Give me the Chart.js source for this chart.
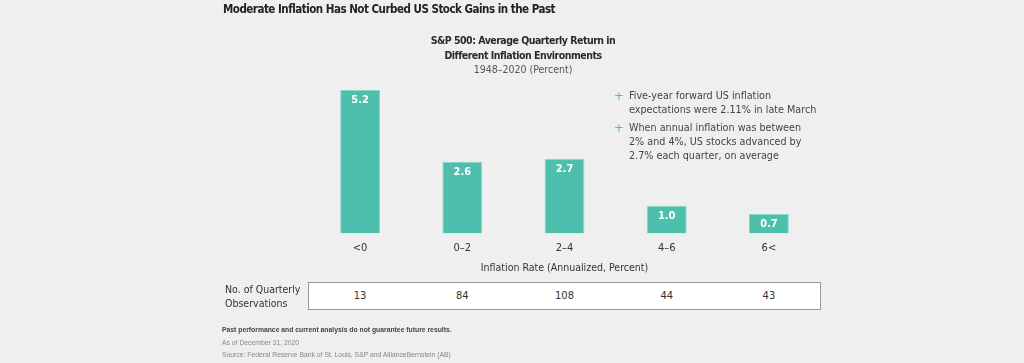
<!DOCTYPE html>
<html lang="en">
<head>
  <meta charset="UTF-8">
  <title>S&amp;P 500: Average Quarterly Return</title>
  <script src="https://cdn.jsdelivr.net/npm/chart.js"></script>
  <style>
    body { margin: 0; background: #efefef; }
    #wrap { position: relative; width: 1024px; height: 363px; overflow: hidden;
            font-family: "DejaVu Sans Condensed", Roboto, sans-serif; color: #333; }
    canvas { position: absolute; left: 0; top: 0; }
    .abs { position: absolute; white-space: nowrap; }
    #title { left: 223px; top: 2px; font-size: 11.5px; letter-spacing: -0.5px; font-weight: bold; color: #222; }
    #subtitle { left: 423px; width: 200px; top: 33px; text-align: center; font-size: 10.5px; line-height: 14.5px; }
    #subtitle b { color: #2a2a2a; letter-spacing: -0.5px; }
    #subtitle span { color: #555; }
    .note { left: 614px; font-size: 10.7px; line-height: 14px; color: #444; }
    .note i { position: absolute; left: 0; top: 0; font-style: normal; color: #4fbfad; font-size: 13px; }
    .note div { padding-left: 15px; }
    #note1 { top: 89px; }
    #note2 { top: 121px; }
    #obsLabel { left: 225px; top: 282px; font-size: 10.5px; line-height: 14px; color: #333; }
    #obsTable { position: absolute; left: 308px; top: 282px; width: 511px; height: 26px;
                background: #fff; border: 1px solid #999; display: flex; }
    #obsTable div { flex: 1; text-align: center; line-height: 26px; font-size: 11px; color: #333; }
    .foot { left: 222px; font-family: "Liberation Sans", Arial, sans-serif; font-size: 6.8px; }
    #foot1 { top: 326px; font-weight: bold; color: #444; }
    #foot2 { top: 339px; color: #888; }
    #foot3 { top: 351px; color: #888; }
  </style>
</head>
<body>
  <div id="wrap">
    <canvas id="returnsChart" width="1024" height="363"></canvas>
    <div id="title" class="abs">Moderate Inflation Has Not Curbed US Stock Gains in the Past</div>
    <div id="subtitle" class="abs">
      <b>S&amp;P 500: Average Quarterly Return in</b><br>
      <b>Different Inflation Environments</b><br>
      <span>1948–2020 (Percent)</span>
    </div>
    <div id="note1" class="abs note"><i>+</i><div>Five-year forward US inflation<br>expectations were 2.11% in late March</div></div>
    <div id="note2" class="abs note"><i>+</i><div>When annual inflation was between<br>2% and 4%, US stocks advanced by<br>2.7% each quarter, on average</div></div>
    <div id="obsLabel" class="abs">No. of Quarterly<br>Observations</div>
    <div id="obsTable"></div>
    <div id="foot1" class="abs foot">Past performance and current analysis do not guarantee future results.</div>
    <div id="foot2" class="abs foot">As of December 31, 2020</div>
    <div id="foot3" class="abs foot">Source: Federal Reserve Bank of St. Louis, S&amp;P and AllianceBernstein (AB)</div>
  </div>

  <script>
    const categories = ['<0', '0–2', '2–4', '4–6', '6<'];
    const avgReturns = [5.2, 2.6, 2.7, 1.0, 0.7];
    const observations = [13, 84, 108, 44, 43];

    const FONT = '"DejaVu Sans Condensed", Roboto, sans-serif';
    const barColor = '#4fbfad';

    // table row under the chart
    const table = document.getElementById('obsTable');
    observations.forEach(n => {
      const cell = document.createElement('div');
      cell.textContent = n;
      table.appendChild(cell);
    });

    // white value inside the top of each bar
    const valueLabels = {
      id: 'valueLabels',
      afterDatasetsDraw(chart) {
        const ctx = chart.ctx;
        const meta = chart.getDatasetMeta(0);
        ctx.save();
        ctx.fillStyle = '#fff';
        ctx.font = 'bold 11px ' + FONT;
        ctx.textAlign = 'center';
        ctx.textBaseline = 'middle';
        meta.data.forEach((bar, i) => {
          ctx.fillText(avgReturns[i].toFixed(1), bar.x, bar.y + 10);
        });
        ctx.restore();
      }
    };

    const ctx = document.getElementById('returnsChart').getContext('2d');
    new Chart(ctx, {
      type: 'bar',
      data: {
        labels: categories,
        datasets: [{
          data: avgReturns,
          backgroundColor: barColor,
          borderColor: '#8ad6c9',
          borderWidth: 1,
          categoryPercentage: 1,
          barPercentage: 0.39
        }]
      },
      options: {
        responsive: false,
        animation: false,
        layout: { padding: { left: 309, right: 204, top: 68, bottom: 84 } },
        plugins: {
          legend: { display: false },
          tooltip: { enabled: false }
        },
        scales: {
          x: {
            grid: { display: false, drawTicks: false },
            border: { display: false },
            ticks: { color: '#333', padding: 9, font: { family: FONT, size: 11, lineHeight: 1 } },
            title: {
              display: true,
              text: 'Inflation Rate (Annualized, Percent)',
              color: '#333',
              font: { family: FONT, size: 10.5 },
              padding: { top: 0, bottom: 4 }
            }
          },
          y: { display: false, min: 0, max: 6 }
        }
      },
      plugins: [valueLabels]
    });
  </script>
</body>
</html>
